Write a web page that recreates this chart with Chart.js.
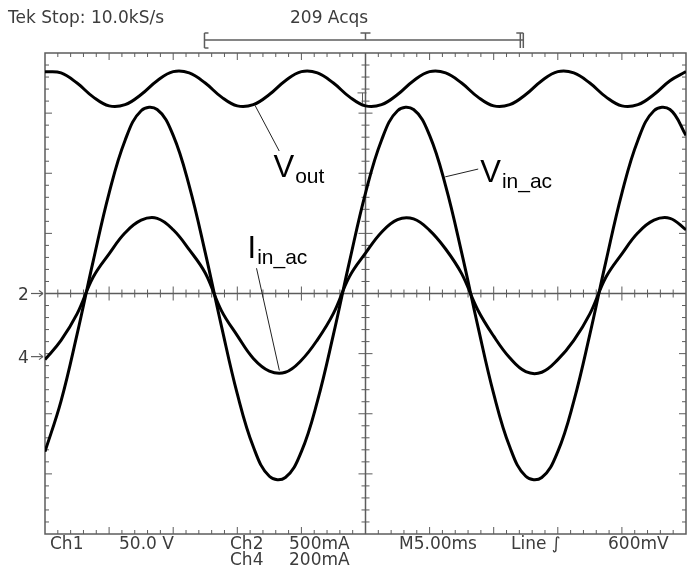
<!DOCTYPE html>
<html>
<head>
<meta charset="utf-8">
<script src="https://cdn.jsdelivr.net/npm/chart.js@4.4.0/dist/chart.umd.min.js"></script>
<style>
  html, body { margin: 0; padding: 0; background: #fff; }
  #wrap { width: 687px; height: 570px; }
</style>
</head>
<body>
<div id="wrap"><canvas id="scope" width="687" height="570"></canvas></div>
<script>
// time in ms (5 ms / div, 10 div), values in screen divisions
const timeMs = [0, 1.25, 2.5, 3.75, 5, 6.25, 7.5, 8.75, 10, 11.25, 12.5, 13.75, 15, 16.25, 17.5, 18.75,
  20, 21.25, 22.5, 23.75, 25, 26.25, 27.5, 28.75, 30, 31.25, 32.5, 33.75, 35, 36.25, 37.5, 38.75,
  40, 41.25, 42.5, 43.75, 45, 46.25, 47.5, 48.75, 50];

const vIn = [-2.63, -1.79, -0.68, 0.53, 1.67, 2.55, 3.04, 3.06, 2.63, 1.79, 0.68, -0.53, -1.67, -2.55, -3.04, -3.06,
  -2.63, -1.79, -0.68, 0.53, 1.67, 2.55, 3.04, 3.06, 2.63, 1.79, 0.68, -0.53, -1.67, -2.55, -3.04, -3.06,
  -2.63, -1.79, -0.68, 0.53, 1.67, 2.55, 3.04, 3.06, 2.63];

const iIn = [-1.10, -0.78, -0.34, 0.27, 0.66, 1.01, 1.22, 1.25, 1.06, 0.73, 0.34, -0.28, -0.70, -1.08, -1.29, -1.31,
  -1.11, -0.77, -0.33, 0.28, 0.67, 1.02, 1.23, 1.24, 1.05, 0.74, 0.33, -0.27, -0.71, -1.07, -1.30, -1.31,
  -1.10, -0.78, -0.34, 0.27, 0.66, 1.01, 1.22, 1.25, 1.06];

const vOut = [3.69, 3.67, 3.50, 3.27, 3.12, 3.14, 3.31, 3.54,
  3.69, 3.67, 3.50, 3.27, 3.12, 3.14, 3.31, 3.54,
  3.69, 3.67, 3.50, 3.27, 3.12, 3.14, 3.31, 3.54,
  3.69, 3.67, 3.50, 3.27, 3.12, 3.14, 3.31, 3.54,
  3.69, 3.67, 3.50, 3.27, 3.12, 3.14, 3.31, 3.54, 3.69];

const headerTexts = ['Tek Stop: 10.0kS/s', '209 Acqs'];
const footerTexts = ['Ch1', '50.0 V', 'Ch2', '500mA', 'Ch4', '200mA', 'M5.00ms', 'Line \u222B', '600mV'];
const groundMarks = ['2', '4'];
const groundLevels = [0, -1.05];

// trace labels with leader lines (data coordinates)
const traceNotes = [
  { main: 'V', sub: 'out', t: 17.82, y: 1.94, from: [16.38, 3.13], to: [18.27, 2.37] },
  { main: 'V', sub: 'in_ac', t: 33.95, y: 1.86, from: [31.22, 1.94], to: [33.79, 2.07] },
  { main: 'I', sub: 'in_ac', t: 15.8, y: 0.59, from: [16.5, 0.42], to: [18.28, -1.28] }
];

const frameColor = '#5c5c5c';
const textColor = '#3c3c3c';

function pts(vals) {
  return timeMs.map((t, i) => ({ x: t, y: vals[i] }));
}

function seg(ctx, x1, y1, x2, y2) {
  ctx.beginPath();
  ctx.moveTo(x1, y1);
  ctx.lineTo(x2, y2);
  ctx.stroke();
}

const scopeFrame = {
  id: 'scopeFrame',
  beforeDatasetsDraw(chart) {
    const { ctx, chartArea: a, scales: { x, y } } = chart;
    const cx = x.getPixelForValue(25), cy = y.getPixelForValue(0);
    ctx.save();
    ctx.strokeStyle = frameColor;
    ctx.lineWidth = 1.5;
    ctx.strokeRect(a.left, a.top, a.right - a.left, a.bottom - a.top);
    seg(ctx, a.left, cy, a.right, cy);
    seg(ctx, cx, a.top, cx, a.bottom);
    ctx.lineWidth = 1;
    // time ticks every 1 ms (0.2 div)
    for (let k = 1; k < 50; k++) {
      const px = x.getPixelForValue(k);
      const major = k % 5 === 0;
      const len = major ? 7 : 4;
      seg(ctx, px, a.top, px, a.top + len);
      seg(ctx, px, a.bottom, px, a.bottom - len);
      seg(ctx, px, cy - len, px, cy + len);
    }
    // vertical ticks every 0.2 div
    for (let k = -19; k < 20; k++) {
      const py = y.getPixelForValue(k * 0.2);
      const major = k % 5 === 0;
      const len = major ? 7 : 4;
      seg(ctx, a.left, py, a.left + len, py);
      seg(ctx, a.right, py, a.right - len, py);
      seg(ctx, cx - len, py, cx + len, py);
    }
    // trigger level marker
    const ty = y.getPixelForValue(3.17);
    seg(ctx, cx - 8, ty - 10, cx + 1, ty - 10);
    seg(ctx, cx - 3, ty - 10, cx - 3, ty);
    ctx.restore();
  },
  afterDatasetsDraw(chart) {
    const { ctx, chartArea: a, scales: { x, y } } = chart;
    ctx.save();
    // header
    ctx.fillStyle = textColor;
    ctx.font = '17px "DejaVu Sans"';
    ctx.textBaseline = 'alphabetic';
    ctx.fillText(headerTexts[0], 8, 23);
    ctx.fillText(headerTexts[1], 290, 23);
    // record bracket
    ctx.strokeStyle = frameColor;
    ctx.lineWidth = 1.5;
    const bl = x.getPixelForValue(12.44), br = x.getPixelForValue(37.31), bc = x.getPixelForValue(25);
    seg(ctx, bl, 40, br, 40);
    seg(ctx, bl, 33, bl, 48);
    seg(ctx, bl, 33, bl + 4, 33);
    seg(ctx, bl, 48, bl + 4, 48);
    seg(ctx, br - 3, 33, br - 3, 48);
    seg(ctx, br, 33, br, 48);
    seg(ctx, br - 7, 33, br, 33);
    seg(ctx, bc, 33, bc, 40);
    seg(ctx, bc - 5, 33, bc + 5, 33);
    // footer
    const row1 = 549, row2 = 565;
    const fx = [50, 119, 230, 289, 230, 289, 399, 511, 608];
    const fy = [row1, row1, row1, row1, row2, row2, row1, row1, row1];
    footerTexts.forEach((s, i) => ctx.fillText(s, fx[i], fy[i]));
    // ground markers
    groundMarks.forEach((m, i) => {
      const gy = y.getPixelForValue(groundLevels[i]);
      ctx.fillText(m, 18, gy + 6);
      ctx.lineWidth = 1.2;
      seg(ctx, 31, gy, a.left - 2, gy);
      seg(ctx, a.left - 6, gy - 3, a.left - 2, gy);
      seg(ctx, a.left - 6, gy + 3, a.left - 2, gy);
    });
    // trace labels
    ctx.fillStyle = '#000';
    ctx.strokeStyle = '#222';
    ctx.lineWidth = 1;
    traceNotes.forEach(n => {
      seg(ctx, x.getPixelForValue(n.from[0]), y.getPixelForValue(n.from[1]),
        x.getPixelForValue(n.to[0]), y.getPixelForValue(n.to[1]));
      const px = x.getPixelForValue(n.t), py = y.getPixelForValue(n.y);
      ctx.font = '31px "Liberation Sans", Arial, sans-serif';
      ctx.fillText(n.main, px, py);
      const w = ctx.measureText(n.main).width;
      ctx.font = '21px "Liberation Sans", Arial, sans-serif';
      ctx.fillText(n.sub, px + w + 1, py + 6);
    });
    ctx.restore();
  }
};

const traceStyle = { borderColor: '#000', borderWidth: 3, pointRadius: 0, tension: 0.4, fill: false };

new Chart(document.getElementById('scope'), {
  type: 'line',
  data: {
    datasets: [
      Object.assign({ label: 'Vout', data: pts(vOut) }, traceStyle),
      Object.assign({ label: 'Vin_ac', data: pts(vIn) }, traceStyle),
      Object.assign({ label: 'Iin_ac', data: pts(iIn) }, traceStyle)
    ]
  },
  options: {
    responsive: false,
    animation: false,
    devicePixelRatio: 1,
    layout: { padding: { left: 45, right: 1, top: 53, bottom: 36 } },
    scales: {
      x: { type: 'linear', min: 0, max: 50, display: false },
      y: { min: -4, max: 4, display: false }
    },
    plugins: { legend: { display: false }, tooltip: { enabled: false } }
  },
  plugins: [scopeFrame]
});
</script>
</body>
</html>
